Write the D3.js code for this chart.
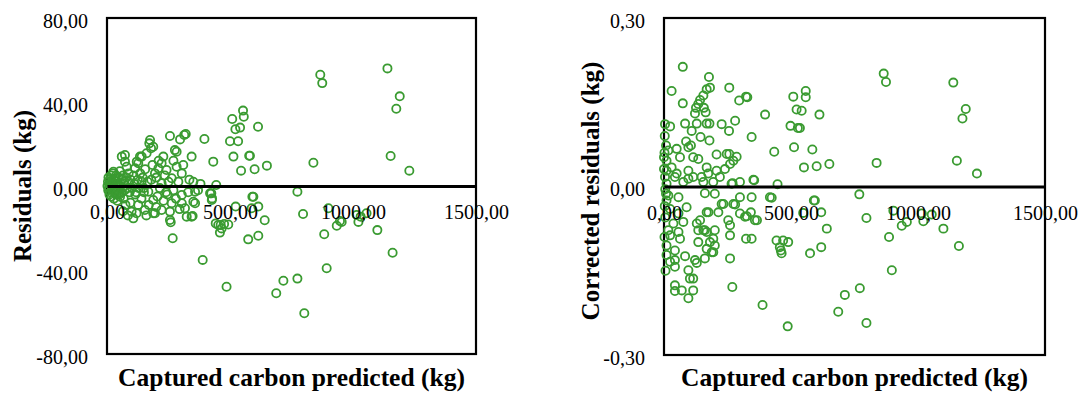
<!DOCTYPE html>
<html>
<head>
<meta charset="utf-8">
<script src="https://cdn.jsdelivr.net/npm/d3@7"></script>
<style>
  body { margin: 0; background: #fff; }
  svg { display: block; background: #fff; }
  text { font-family: "Liberation Serif", "Times New Roman", serif; fill: #000; }
</style>
</head>
<body>
<svg id="chart" width="1083" height="393"></svg>
<script>
// [predicted carbon (kg), residual (kg)]
var residualPoints = [
	[867, 53], [875, 49], [1140, 56], [1190, 42.7], [1176, 36.8], [1153, 14.3], [1229, 7.3], [839, 11.1],
	[553, 35.9], [556, 33], [509, 31.9], [522, 27], [541, 27.8], [614, 28.2], [500, 21.3], [533, 21.3],
	[396, 22.4], [432, 11.6], [514, 14], [581, 14.4], [578, 14.4], [545, 7.3], [600, 8], [650, 9.7],
	[444, 0.5], [424, -3.5], [591, -5.1], [774, -2.7], [427, -5.9], [523, -9.8], [615, -9.8], [641, -16.3],
	[797, -13.3], [442, -17.8], [462, -18.6], [476, -18.1], [493, -18.3], [459, -22.2], [466, -20.2],
	[574, -25.4], [615, -23.7], [389, -35.2], [486, -48], [688, -51.1], [717, -45.1], [774, -44.1],
	[802, -60.6], [883, -23], [893, -39.2], [900, -10.6], [934, -18.9], [954, -17.1], [1022, -17.1],
	[1015, -13.8], [1055, -13], [1099, -21], [1161, -31.8], [947, -16.7], [1031, -14.6],
	[256, 23.8], [297, 22.2], [320, 24.8], [314, 24.3], [172, 20.3], [179, 18], [161, 15.6], [141, 14],
	[121, 11.6], [73, 14.8], [73, 11.6], [229, 14], [276, 17.1], [344, 14], [283, 9.2], [242, 7.6],
	[26, 6.8], [33, 3.7], [114, 8.4], [195, 6], [290, 2], [351, 2], [358, -2.7], [419, -3.5], [426, -6.7],
	[304, -4.3], [263, -8.2], [317, -10.6], [358, -8.2], [344, -14.6], [324, -14.6], [256, -16.2],
	[195, -13], [154, -11.4], [107, -15.4], [100, -12.2], [127, -9], [188, -6.7], [588, -10.6],
	[452, -18.6], [222, -11.4], [87, 1.3], [53, -5.1], [168, -2.7], [222, 1.3], [263, 3.7], [304, 6],
	[141, 2], [222, 10.8], [60, 14], [80, 9.2], [134, 14], [175, 21.9], [188, 18.7], [283, 16.3],
	[209, 8.4], [127, 10.8], [267, -24.9], [259, -17.3], [348, -14.3], [595, -5.1], [304, -8.2],
	[351, -7.5], [256, -12.2], [188, -13],
	[95, -8], [115, -4], [150, -3], [170, -9], [205, -5], [230, -7], [240, -3], [270, -2], [140, -6],
	[120, -13], [160, -14], [200, -10], [75, -9], [65, -12], [85, -14],
	[2, 0], [4, 2], [5, -2], [6, 4], [8, -1], [9, 1], [10, -4], [12, 3], [14, -3], [15, 0.5], [16, 5],
	[18, -5], [20, 2], [22, -2], [24, 6], [25, -1], [27, 1], [28, -6], [30, 3], [32, -3], [35, 0],
	[37, 5], [38, -4], [40, 2], [42, -7], [45, 1], [46, -2], [48, 4], [50, -4], [52, 7], [55, 0],
	[58, -3], [60, 3], [62, -1], [65, 5], [68, -6], [70, 2], [72, -2], [78, 4], [82, -1], [88, 6],
	[92, -3], [96, 3], [102, -1], [108, 5], [112, 1], [118, -3], [125, 3], [130, -1], [135, 6],
	[145, 4], [150, -1], [155, 8], [165, 2], [180, 3], [185, 10], [200, 4], [210, 12], [215, -1],
	[235, 5], [245, -4], [250, 2], [270, 12], [280, -6], [295, -11], [310, 10], [330, -3], [335, 3],
	[370, -2], [380, 1]
];

// [predicted carbon (kg), corrected residual (kg)]
var correctedPoints = [
	[865, 0.201], [874, 0.186], [1139, 0.185], [1188, 0.138], [1175, 0.121], [1153, 0.046], [1232, 0.023],
	[837, 0.042], [558, 0.170], [558, 0.159], [542, 0.135], [612, 0.128], [535, 0.104], [584, 0.066],
	[551, 0.034], [601, 0.036], [651, 0.040], [769, -0.014], [590, -0.025],
	[74, 0.213], [177, 0.195], [181, 0.176], [168, 0.173], [155, 0.162], [142, 0.154], [135, 0.147],
	[126, 0.140], [157, 0.140], [122, 0.130], [164, 0.132], [30, 0.170], [74, 0.148], [257, 0.176],
	[296, 0.153], [323, 0.160], [328, 0.159], [398, 0.128], [509, 0.160], [522, 0.137], [498, 0.108],
	[527, 0.104], [345, 0.088], [434, 0.062], [512, 0.070], [447, 0.004], [355, 0.011], [299, 0.008],
	[270, 0.006], [257, 0.058], [286, 0.053], [260, 0.040], [207, 0.057], [227, 0.111], [280, 0.117],
	[179, 0.112], [168, 0.112], [129, 0.112], [83, 0.112], [109, 0.099], [144, 0.088], [179, 0.082],
	[87, 0.080], [24, 0.107], [4, 0.111], [8, 0.073], [50, 0.067], [96, 0.070], [63, 0.052], [115, 0.052],
	[135, 0.049], [10, 0.046], [30, 0.034], [96, 0.028], [168, 0.034], [207, 0.028], [240, 0.031],
	[50, 0.023], [115, 0.017], [174, 0.023], [220, 0.017], [76, 0.008], [10, 0.005], [155, 0.008],
	[194, 0.008], [10, 0.028], [4, 0.017], [256, 0.099], [17, 0.064], [106, 0.073], [247, 0.058],
	[273, 0.046], [148, 0.017], [352, 0.012], [266, 0.005], [43, 0.017], [0, 0.052], [0, 0.031], [96, 0.014],
	[8, -0.013], [10, -0.025], [24, -0.040], [57, -0.048], [89, -0.037], [37, -0.066], [17, -0.078],
	[76, -0.063], [57, -0.081], [63, -0.093], [10, -0.105], [43, -0.114], [10, -0.122], [24, -0.134],
	[43, -0.143], [83, -0.124], [122, -0.131], [129, -0.136], [96, -0.149], [102, -0.164], [115, -0.164],
	[43, -0.176], [43, -0.186], [70, -0.185], [115, -0.185], [96, -0.199], [129, -0.066], [142, -0.060],
	[155, -0.078], [168, -0.081], [135, -0.099], [181, -0.099], [194, -0.093], [200, -0.105], [161, -0.128],
	[188, -0.117], [260, -0.069], [253, -0.060], [260, -0.128], [269, -0.179], [388, -0.211], [487, -0.249],
	[323, -0.093], [345, -0.093], [326, -0.053], [366, -0.060], [342, -0.046], [299, -0.048], [273, -0.031],
	[234, -0.031], [214, -0.046], [168, -0.046], [299, -0.019], [345, -0.019], [417, -0.019], [443, -0.096],
	[456, -0.108], [463, -0.119], [489, -0.099], [469, -0.096], [575, -0.119], [619, -0.108], [641, -0.075],
	[594, -0.025], [619, -0.046], [548, -0.047], [686, -0.223], [712, -0.193], [771, -0.181], [797, -0.243],
	[797, -0.056], [886, -0.090], [897, -0.149], [903, -0.043], [936, -0.070], [956, -0.063], [1021, -0.062],
	[1015, -0.048], [1054, -0.050], [1100, -0.075], [1161, -0.106],
	[17, -0.016], [57, -0.019], [161, -0.012], [200, -0.013], [227, -0.031], [280, -0.032], [424, -0.020],
	[175, -0.046], [319, -0.054], [358, -0.060], [260, -0.087], [161, -0.078], [168, -0.111], [194, -0.117],
	[24, -0.087], [43, -0.131], [460, -0.114], [135, -0.078], [200, -0.078], [5, -0.005], [3, -0.035],
	[5, -0.055], [2, -0.09], [6, -0.15], [3, 0.09], [2, 0.06]
];

var xTicks = [0, 500, 1000, 1500];
var residualTicks = [-80, -40, 0, 40, 80];
var correctedTicks = [-0.3, 0, 0.3];
var xTitle = "Captured carbon predicted (kg)";
var residualTitle = "Residuals (kg)";
var correctedTitle = "Corrected residuals (kg)";

var green = "#3a9b31";

var locale = d3.formatLocale({
	decimal: ",",
	thousands: ".",
	grouping: [3],
	currency: ["", ""],
	minus: "-"
});
var fmt = locale.format(".2f");

var svg = d3.select("#chart");

function drawPanel(p) {
	var x = d3.scaleLinear().domain([0, 1500]).range([p.left, p.right]);
	var y = d3.scaleLinear().domain(p.yDomain).range([p.bottom, p.top]);

	var g = svg.append("g");

	// plot frame
	g.append("rect")
		.attr("x", p.left)
		.attr("y", p.top)
		.attr("width", p.right - p.left)
		.attr("height", p.bottom - p.top)
		.attr("fill", "none")
		.attr("stroke", "#000")
		.attr("stroke-width", 2.2);

	// y axis labels
	var yAxis = g.append("g")
		.attr("transform", "translate(" + p.left + ",0)")
		.call(d3.axisLeft(y).tickValues(p.yTicks).tickFormat(fmt).tickSize(0).tickPadding(19));
	yAxis.select(".domain").remove();
	yAxis.selectAll("text")
		.attr("dy", "0.45em")
		.style("font-size", "20px")
		.style("font-family", "'Liberation Serif', 'Times New Roman', serif")
		.attr("fill", "#222");

	// points
	g.append("g")
		.selectAll("circle")
		.data(p.points)
		.join("circle")
		.attr("cx", function (d) { return x(d[0]); })
		.attr("cy", function (d) { return y(d[1]); })
		.attr("r", 4.1)
		.attr("fill", "none")
		.attr("stroke", green)
		.attr("stroke-width", 1.8);

	// x axis crosses at zero
	var xAxis = g.append("g")
		.attr("transform", "translate(0," + y(0) + ")")
		.call(d3.axisBottom(x).tickValues(xTicks).tickFormat(fmt).tickSizeInner(0).tickSizeOuter(0).tickPadding(19));
	xAxis.select(".domain")
		.attr("stroke", "#000")
		.attr("stroke-width", 2.8);
	xAxis.selectAll("text")
		.style("font-size", "20px")
		.style("font-family", "'Liberation Serif', 'Times New Roman', serif")
		.attr("fill", "#222");

	// titles
	svg.append("text")
		.attr("x", (p.left + p.right) / 2)
		.attr("y", 386)
		.attr("text-anchor", "middle")
		.style("font-size", "25.5px")
		.style("font-weight", "bold")
		.text(xTitle);

	svg.append("text")
		.attr("transform", "translate(" + p.titleX + "," + p.titleY + ") rotate(-90)")
		.attr("text-anchor", "middle")
		.attr("dy", "0.35em")
		.style("font-size", "25px")
		.style("font-weight", "bold")
		.text(p.title);
}

drawPanel({
	left: 107, right: 476, top: 18, bottom: 354,
	yDomain: [-80, 80], yTicks: residualTicks,
	points: residualPoints, title: residualTitle,
	titleX: 22, titleY: 186
});

drawPanel({
	left: 664, right: 1045, top: 18, bottom: 355,
	yDomain: [-0.3, 0.3], yTicks: correctedTicks,
	points: correctedPoints, title: correctedTitle,
	titleX: 590, titleY: 191
});
</script>
</body>
</html>
